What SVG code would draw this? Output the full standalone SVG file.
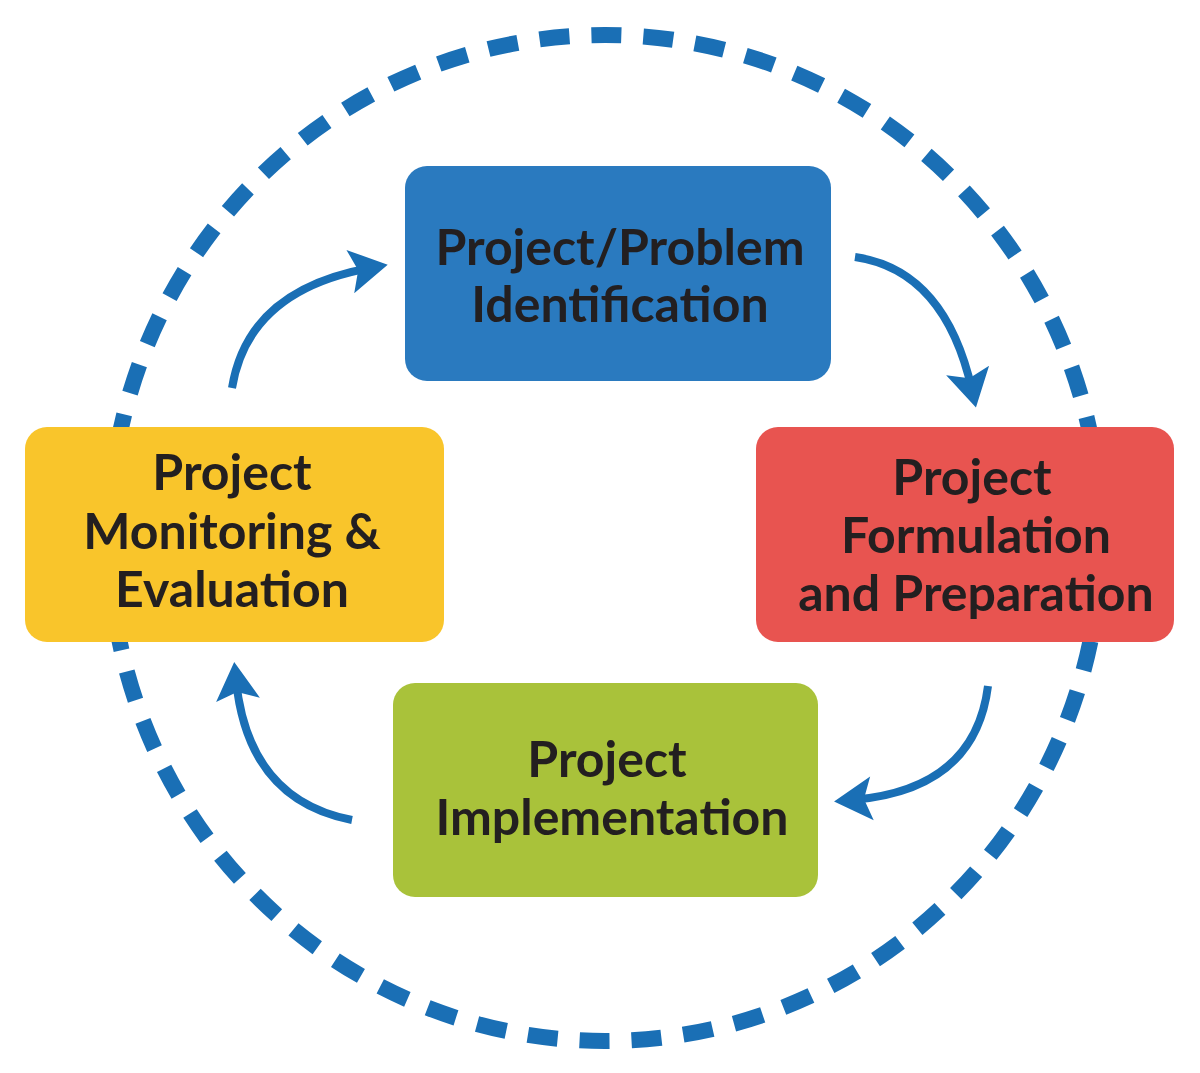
<svg xmlns="http://www.w3.org/2000/svg" width="1200" height="1073" viewBox="0 0 1200 1073">
<style>
.t{font-family:Lato,"Liberation Sans",sans-serif;font-weight:bold;font-size:50px;fill:#231f20;text-anchor:middle}
.a{fill:none;stroke:#1a6fb5;stroke-width:8}
</style>
<defs>
<marker id="h" markerUnits="userSpaceOnUse" markerWidth="60" markerHeight="60" refX="30" refY="30" orient="auto">
<path d="M10,8 L48,30 L10,52 L18,30 Z" fill="#1a6fb5"/>
</marker>
</defs>
<rect width="1200" height="1073" fill="#fff"/>
<ellipse cx="605" cy="538" rx="496" ry="503" fill="none" stroke="#1a6fb5" stroke-width="16" stroke-dasharray="30 22"/>
<g id="connectors">
<path class="a" d="M855,257 Q945,270 972,390" marker-end="url(#h)"/>
<path class="a" d="M988,686 Q975,790 852,800" marker-end="url(#h)"/>
<path class="a" d="M352,820 Q248,800 236,680" marker-end="url(#h)"/>
<path class="a" d="M232,388 Q248,290 370,268" marker-end="url(#h)"/>
</g>
<g id="n1"><rect x="405" y="166" width="426" height="215" rx="22" fill="#2a7abf"/>
<text class="t" x="620" y="265">Project/Problem</text><text class="t" x="620" y="322">Identification</text></g>
<g id="n2"><rect x="756" y="427" width="418" height="215" rx="22" fill="#e85450"/>
<text class="t" x="972" y="495">Project</text><text class="t" x="976" y="553">Formulation</text><text class="t" x="976" y="611">and Preparation</text></g>
<g id="n3"><rect x="393" y="683" width="425" height="214" rx="22" fill="#a9c23a"/>
<text class="t" x="607" y="777">Project</text><text class="t" x="612" y="835">Implementation</text></g>
<g id="n4"><rect x="25" y="427" width="419" height="215" rx="22" fill="#f9c52b"/>
<text class="t" x="232" y="490">Project</text><text class="t" x="232" y="549">Monitoring &amp;</text><text class="t" x="232" y="607">Evaluation</text></g>
</svg>
